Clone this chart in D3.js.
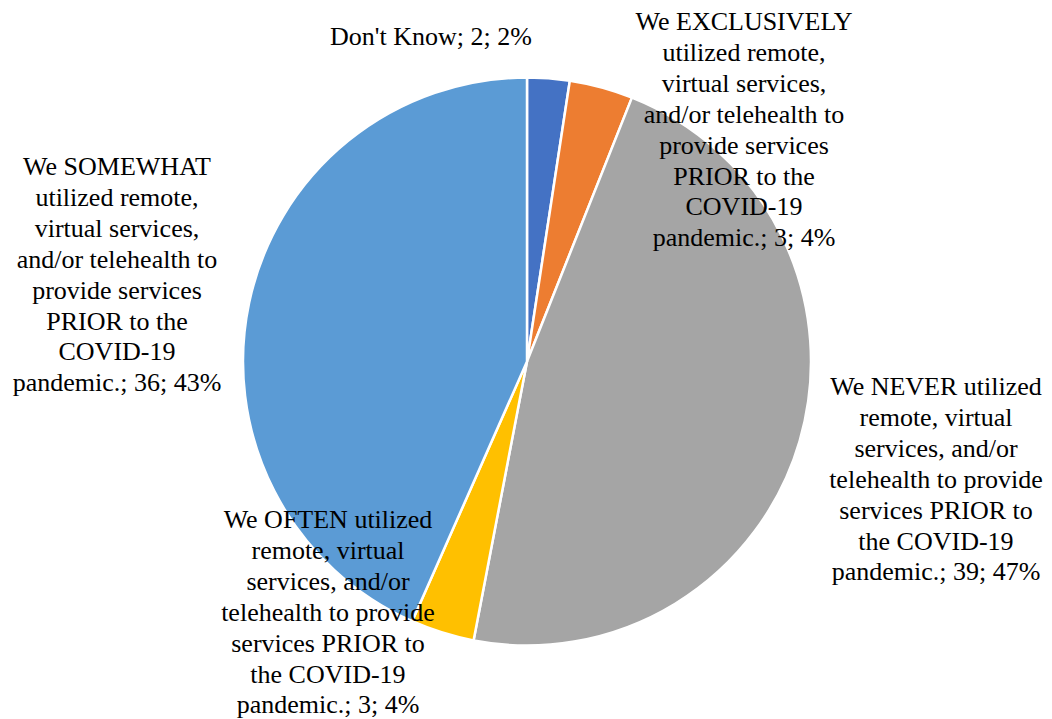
<!DOCTYPE html>
<html>
<head>
<meta charset="utf-8">
<script src="https://cdn.jsdelivr.net/npm/d3@7"></script>
<style>
  html, body { margin: 0; padding: 0; background: #fff; }
  svg { display: block; }
  text { font-family: "Liberation Serif", "Times New Roman", serif; font-size: 26px; fill: #000; }
</style>
</head>
<body>
<svg id="chart" width="1052" height="719"></svg>
<script>
// Survey responses: use of remote / virtual services before COVID-19
const categories = [
  "Don't Know",
  "We EXCLUSIVELY utilized remote, virtual services, and/or telehealth to provide services PRIOR to the COVID-19 pandemic.",
  "We NEVER utilized remote, virtual services, and/or telehealth to provide services PRIOR to the COVID-19 pandemic.",
  "We OFTEN utilized remote, virtual services, and/or telehealth to provide services PRIOR to the COVID-19 pandemic.",
  "We SOMEWHAT utilized remote, virtual services, and/or telehealth to provide services PRIOR to the COVID-19 pandemic."
];
const counts = [2, 3, 39, 3, 36];
const colors = ["#4472C4", "#ED7D31", "#A5A5A5", "#FFC000", "#5B9BD5"];

// Label anchors: centre x and first-line baseline y
const labelPos = [
  { x: 431, y: 45 },
  { x: 744, y: 30 },
  { x: 936, y: 395 },
  { x: 328, y: 528 },
  { x: 117, y: 175 }
];

const W = 1052, H = 719;
const cx = 527, cy = 361.5, R = 284;
const lineH = 30.9;
const wrapWidth = 226;

const svg = d3.select("#chart");
const total = d3.sum(counts);

const pie = d3.pie().sort(null).value(d => d)
  .startAngle(0).endAngle(2 * Math.PI);
const arc = d3.arc().innerRadius(0).outerRadius(R);

const g = svg.append("g").attr("transform", `translate(${cx},${cy})`);
g.selectAll("path")
  .data(pie(counts))
  .join("path")
  .attr("d", arc)
  .attr("fill", (d, i) => colors[i])
  .attr("stroke", "#fff")
  .attr("stroke-width", 2.5)
  .attr("stroke-linejoin", "round");

// Word-wrap helper using measured text widths
const measurer = svg.append("text").attr("visibility", "hidden");
function textWidth(s) {
  measurer.text(s);
  return measurer.node().getComputedTextLength();
}
function wrap(str, maxW) {
  const words = str.split(" ");
  const lines = [];
  let cur = "";
  words.forEach(w => {
    const trial = cur ? cur + " " + w : w;
    if (cur && textWidth(trial) > maxW) {
      lines.push(cur);
      cur = w;
    } else {
      cur = trial;
    }
  });
  if (cur) lines.push(cur);
  return lines;
}

const labels = svg.append("g");
categories.forEach((name, i) => {
  const pct = Math.round(counts[i] / total * 100);
  const full = `${name}; ${counts[i]}; ${pct}%`;
  const lines = i === 0 ? [full] : wrap(full, wrapWidth);
  const t = labels.append("text")
    .attr("text-anchor", "middle")
    .attr("x", labelPos[i].x)
    .attr("y", labelPos[i].y);
  lines.forEach((ln, k) => {
    t.append("tspan")
      .attr("x", labelPos[i].x)
      .attr("y", labelPos[i].y + k * lineH)
      .text(ln);
  });
});
measurer.remove();
</script>
</body>
</html>
